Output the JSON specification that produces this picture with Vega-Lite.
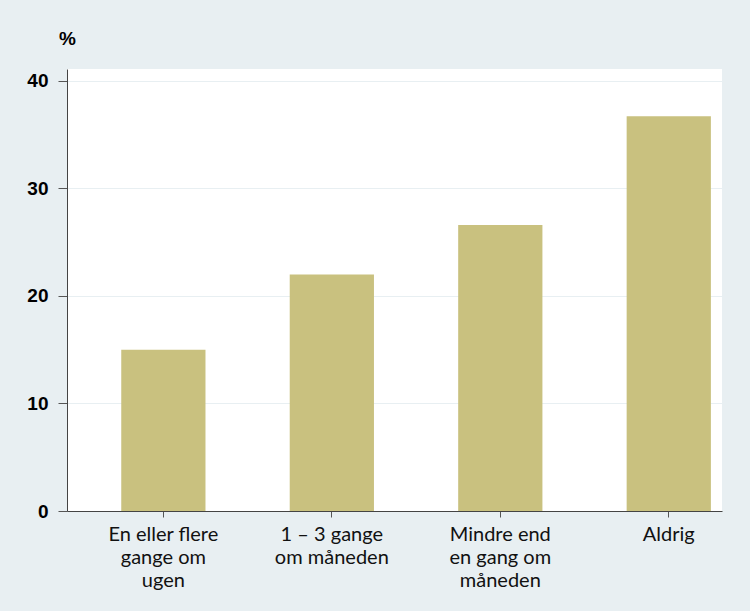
{
  "$schema": "https://vega.github.io/schema/vega-lite/v6.json",
  "autosize": "none",
  "width": 655,
  "height": 442,
  "padding": {"left": 67, "top": 69, "right": 28, "bottom": 100},
  "background": "#e8eff2",
  "view": {"fill": "white", "stroke": null},
  "data": {
    "values": [
      {"kategori": "En eller flere\ngange om\nugen", "pct": 15.0, "order": 1},
      {"kategori": "1 – 3 gange\nom måneden", "pct": 22.0, "order": 2},
      {"kategori": "Mindre end\nen gang om\nmåneden", "pct": 26.6, "order": 3},
      {"kategori": "Aldrig", "pct": 36.7, "order": 4}
    ]
  },
  "mark": {"type": "bar", "color": "#c9c17f"},
  "encoding": {
    "x": {
      "field": "kategori",
      "type": "nominal",
      "sort": {"field": "order"},
      "scale": {"paddingInner": 0.5, "paddingOuter": 0.194, "align": 0.83},
      "axis": {
        "title": null,
        "labelAngle": 0,
        "labelExpr": "split(datum.value, '\\n')",
        "labelFont": "Lato",
        "labelFontSize": 20,
        "labelLineHeight": 23,
        "labelColor": "#111111",
        "labelPadding": 7,
        "tickSize": 6,
        "tickColor": "#555555",
        "domainColor": "#444444",
        "grid": false
      }
    },
    "y": {
      "field": "pct",
      "type": "quantitative",
      "scale": {"domain": [0, 41.1], "nice": false},
      "axis": {
        "title": "%",
        "titleAngle": 0,
        "titleX": 0,
        "titleY": -31,
        "titleAlign": "center",
        "titleBaseline": "middle",
        "titleFont": "Liberation Sans",
        "titleFontWeight": "bold",
        "titleFontSize": 19,
        "titleColor": "#000000",
        "values": [0, 10, 20, 30, 40],
        "labelFont": "Liberation Sans",
        "labelFontWeight": "bold",
        "labelFontSize": 19,
        "labelColor": "#000000",
        "labelPadding": 10,
        "tickSize": 9,
        "tickColor": "#555555",
        "domainColor": "#444444",
        "gridColor": "#e8eff2",
        "gridWidth": 1
      }
    }
  }
}
